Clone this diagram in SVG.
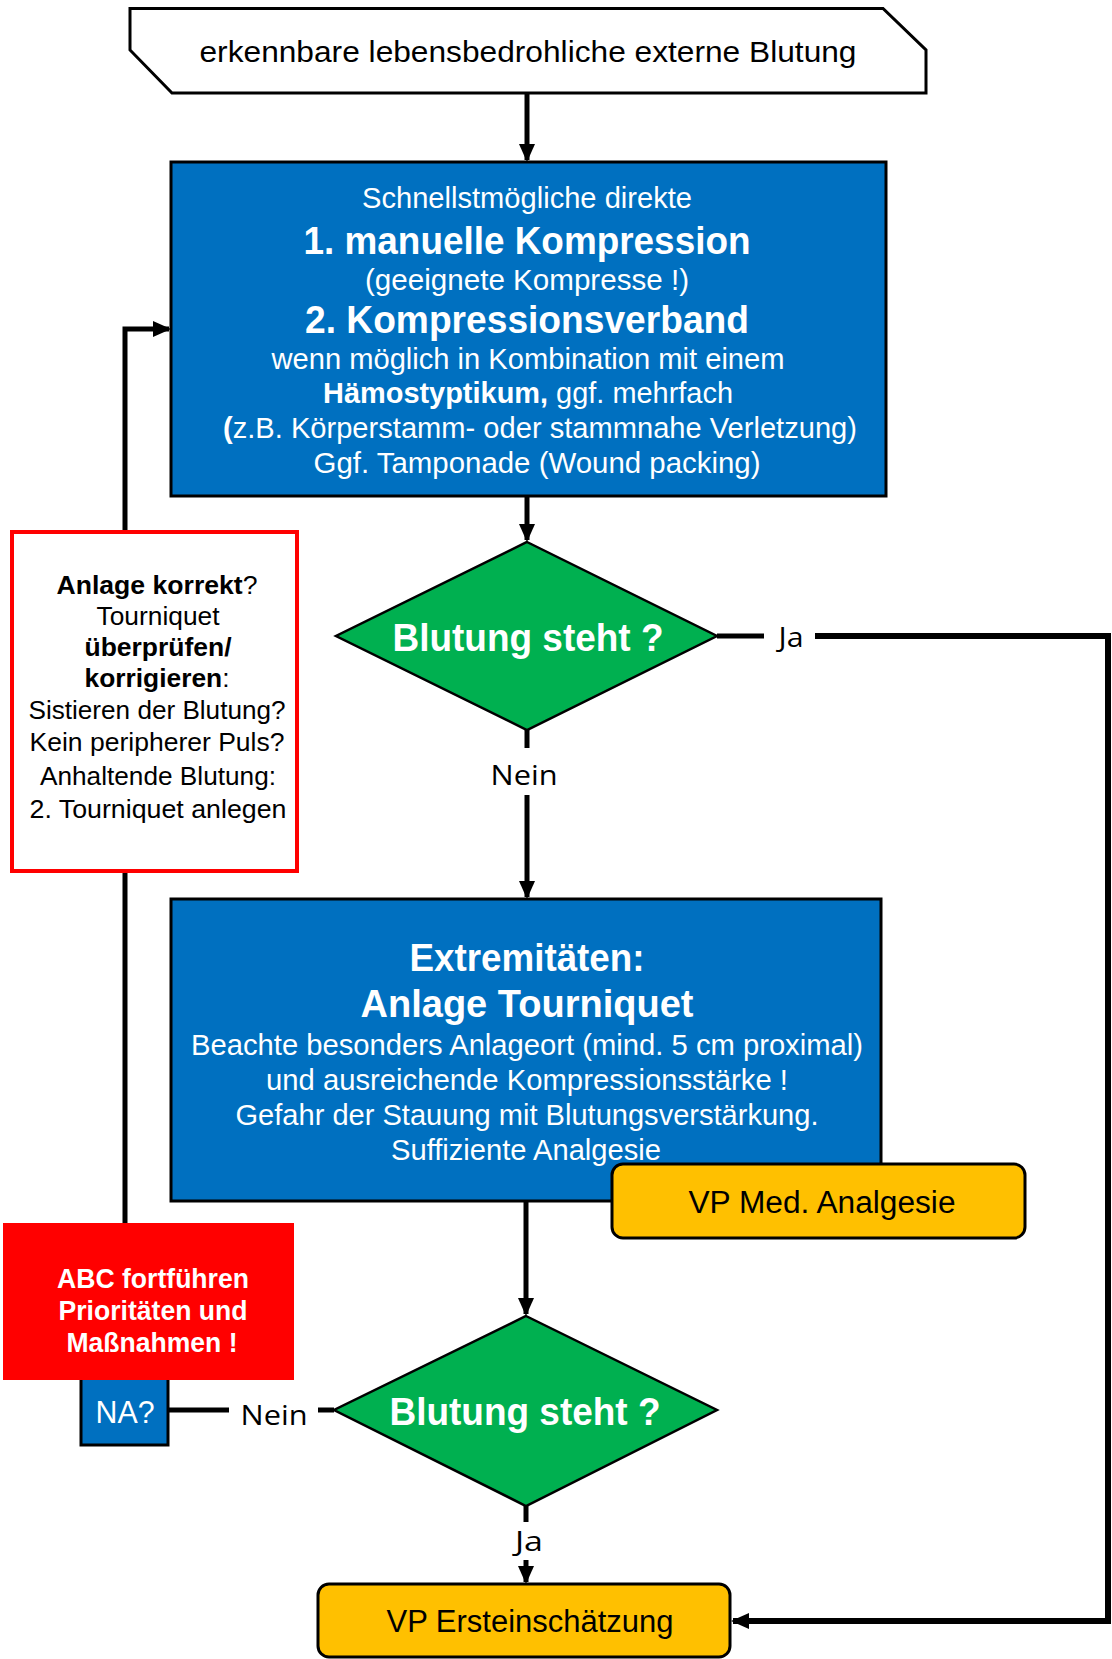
<svg xmlns="http://www.w3.org/2000/svg" width="1112" height="1659" viewBox="0 0 1112 1659">
<style>
text{font-family:"Liberation Sans",Arial,sans-serif;text-anchor:middle}
.w{fill:#fff}
.k{fill:#000}
.b{font-weight:bold}
.r{font-size:30px}
.h{font-size:38px;font-weight:bold}
.lbl{font-family:"Open Sans","Liberation Sans",sans-serif;font-size:28px;fill:#000}
.blue{fill:#0070C0;stroke:#000;stroke-width:3}
.dia{fill:#00B050;stroke:#000;stroke-width:2.5}
.yel{fill:#FFC000;stroke:#000;stroke-width:3}
.ln{fill:none;stroke:#000;stroke-width:5}
.lnt{fill:none;stroke:#000;stroke-width:6}
</style>
<defs>
<marker id="ah" markerUnits="userSpaceOnUse" markerWidth="18" markerHeight="18" viewBox="0 0 18 18" refX="16" refY="9" orient="auto">
<path d="M0,1 L18,9 L0,17 Z" fill="#000"/>
</marker>
</defs>

<g id="connectors">
<path class="ln" d="M527,93 V160" marker-end="url(#ah)"/>
<path class="ln" d="M527,496 V540" marker-end="url(#ah)"/>
<path class="ln" d="M527,730 V748"/>
<path class="ln" d="M527,795 V897" marker-end="url(#ah)"/>
<path class="ln" d="M717,636 H764"/>
<path class="lnt" d="M815,636 H1108 V1621 H733" marker-end="url(#ah)"/>
<path class="ln" d="M526,1201 V1314" marker-end="url(#ah)"/>
<path class="ln" d="M526,1506 V1522"/>
<path class="ln" d="M526,1560 V1582" marker-end="url(#ah)"/>
<path class="ln" d="M334,1410 H318"/>
<path class="ln" d="M229,1410 H168"/>
<path class="ln" d="M125,1376 V329 H169" marker-end="url(#ah)"/>
</g>

<g id="start">
<path d="M130,8.5 H883 L926,50 V93 H172 L130,50 Z" fill="#fff" stroke="#000" stroke-width="3"/>
<text x="528" y="62" font-size="30" textLength="657" lengthAdjust="spacingAndGlyphs">erkennbare lebensbedrohliche externe Blutung</text>
</g>

<g id="box1">
<rect class="blue" x="171" y="162" width="715" height="334"/>
<text class="w r" x="527" y="208" textLength="330" lengthAdjust="spacingAndGlyphs">Schnellstmögliche direkte</text>
<text class="w h" x="527" y="254" textLength="447" lengthAdjust="spacingAndGlyphs">1. manuelle Kompression</text>
<text class="w r" x="527" y="290" textLength="324" lengthAdjust="spacingAndGlyphs">(geeignete Kompresse !)</text>
<text class="w h" x="527" y="333" textLength="444" lengthAdjust="spacingAndGlyphs">2. Kompressionsverband</text>
<text class="w r" x="528" y="369" textLength="513" lengthAdjust="spacingAndGlyphs">wenn möglich in Kombination mit einem</text>
<text class="w r" x="528" y="403" textLength="410" lengthAdjust="spacingAndGlyphs"><tspan class="b">Hämostyptikum,</tspan> ggf. mehrfach</text>
<text class="w r" x="540" y="438" textLength="634" lengthAdjust="spacingAndGlyphs"><tspan class="b">(</tspan>z.B. Körperstamm- oder stammnahe Verletzung)</text>
<text class="w r" x="537" y="473" textLength="447" lengthAdjust="spacingAndGlyphs">Ggf. Tamponade (Wound packing)</text>
</g>

<g id="decision1">
<path class="dia" d="M527,542 L717,636 L527,730 L336,636 Z"/>
<text class="w b" x="528" y="651" font-size="38" textLength="271" lengthAdjust="spacingAndGlyphs">Blutung steht ?</text>
</g>
<text class="lbl" x="791" y="647" textLength="25" lengthAdjust="spacingAndGlyphs">Ja</text>
<text class="lbl" x="524" y="785" textLength="67" lengthAdjust="spacingAndGlyphs">Nein</text>

<g id="check">
<rect x="12" y="532" width="285" height="339" fill="#fff" stroke="#FF0000" stroke-width="4"/>
<text class="k" x="157" y="594" font-size="26" textLength="201" lengthAdjust="spacingAndGlyphs"><tspan class="b">Anlage korrekt</tspan>?</text>
<text class="k" x="158" y="625" font-size="26" textLength="123" lengthAdjust="spacingAndGlyphs">Tourniquet</text>
<text class="k b" x="158" y="656" font-size="26" textLength="147" lengthAdjust="spacingAndGlyphs">überprüfen/</text>
<text class="k" x="157" y="687" font-size="26" textLength="145" lengthAdjust="spacingAndGlyphs"><tspan class="b">korrigieren</tspan>:</text>
<text class="k" x="157" y="719" font-size="26" textLength="257" lengthAdjust="spacingAndGlyphs">Sistieren der Blutung?</text>
<text class="k" x="157" y="751" font-size="26" textLength="255" lengthAdjust="spacingAndGlyphs">Kein peripherer Puls?</text>
<text class="k" x="158" y="785" font-size="26" textLength="236" lengthAdjust="spacingAndGlyphs">Anhaltende Blutung:</text>
<text class="k" x="158" y="818" font-size="26" textLength="257" lengthAdjust="spacingAndGlyphs">2. Tourniquet anlegen</text>
</g>

<g id="box2">
<rect class="blue" x="171" y="899" width="710" height="302"/>
<text class="w h" x="527" y="971" textLength="235" lengthAdjust="spacingAndGlyphs">Extremitäten:</text>
<text class="w h" x="527" y="1017" textLength="333" lengthAdjust="spacingAndGlyphs">Anlage Tourniquet</text>
<text class="w r" x="527" y="1055" textLength="672" lengthAdjust="spacingAndGlyphs">Beachte besonders Anlageort (mind. 5 cm proximal)</text>
<text class="w r" x="527" y="1090" textLength="522" lengthAdjust="spacingAndGlyphs">und ausreichende Kompressionsstärke !</text>
<text class="w r" x="527" y="1125" textLength="583" lengthAdjust="spacingAndGlyphs">Gefahr der Stauung mit Blutungsverstärkung.</text>
<text class="w r" x="526" y="1160" textLength="270" lengthAdjust="spacingAndGlyphs">Suffiziente Analgesie</text>
</g>

<g id="analgesie">
<rect class="yel" x="612" y="1164" width="413" height="74" rx="11"/>
<text class="k" x="822" y="1213" font-size="31" textLength="267" lengthAdjust="spacingAndGlyphs">VP Med. Analgesie</text>
</g>

<g id="na">
<rect class="blue" x="81" y="1375" width="87" height="70"/>
<text class="w" x="125" y="1423" font-size="31" textLength="59" lengthAdjust="spacingAndGlyphs">NA?</text>
</g>

<g id="abc">
<rect x="3" y="1223" width="291" height="157" fill="#FF0000"/>
<text class="w b" x="153" y="1288" font-size="27" textLength="192" lengthAdjust="spacingAndGlyphs">ABC fortführen</text>
<text class="w b" x="153" y="1320" font-size="27" textLength="189" lengthAdjust="spacingAndGlyphs">Prioritäten und</text>
<text class="w b" x="152" y="1352" font-size="27" textLength="171" lengthAdjust="spacingAndGlyphs">Maßnahmen !</text>
</g>

<g id="decision2">
<path class="dia" d="M526,1316 L717,1410 L526,1506 L334,1410 Z"/>
<text class="w b" x="525" y="1425" font-size="38" textLength="271" lengthAdjust="spacingAndGlyphs">Blutung steht ?</text>
</g>
<text class="lbl" x="274" y="1425" textLength="67" lengthAdjust="spacingAndGlyphs">Nein</text>
<text class="lbl" x="529" y="1551" textLength="28" lengthAdjust="spacingAndGlyphs">Ja</text>

<g id="ersteinschaetzung">
<rect class="yel" x="318" y="1584" width="412" height="73" rx="11"/>
<text class="k" x="530" y="1632" font-size="31" textLength="287" lengthAdjust="spacingAndGlyphs">VP Ersteinschätzung</text>
</g>
</svg>
